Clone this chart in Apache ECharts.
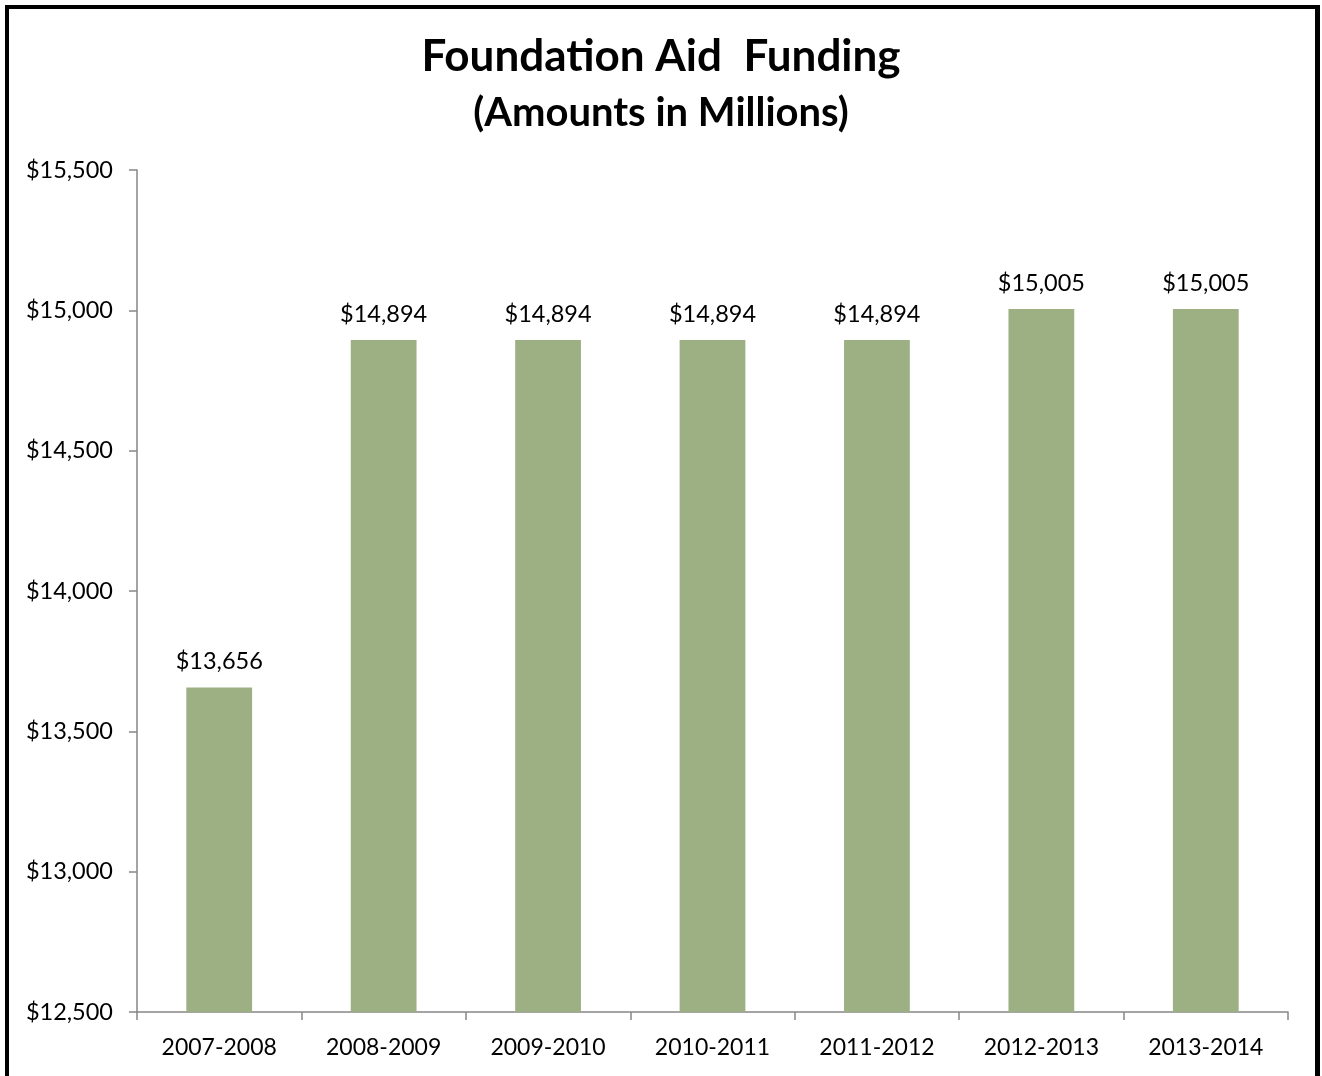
<!DOCTYPE html>
<html>
<head>
<meta charset="utf-8">
<script src="https://cdn.jsdelivr.net/npm/echarts@6/dist/echarts.min.js"></script>
<style>
  html, body { margin: 0; padding: 0; background: #fff; }
  #frame { position: absolute; left: 5px; top: 5px; width: 1306px; height: 1090px; border: 4px solid #000; border-right-width: 5px; box-sizing: content-box; }
  #chart { position: absolute; left: 0; top: 0; width: 1322px; height: 1076px; }
</style>
</head>
<body>
<div id="chart"></div>
<div id="frame"></div>
<script>
const years = ['2007-2008', '2008-2009', '2009-2010', '2010-2011', '2011-2012', '2012-2013', '2013-2014'];
const funding = [13656, 14894, 14894, 14894, 14894, 15005, 15005];
const yMin = 12500, yMax = 15500, yStep = 500;

const FONT = 'Lato, "Noto Sans", sans-serif';
const money = v => '$' + Math.round(v).toLocaleString('en-US');

const chart = echarts.init(document.getElementById('chart'), null, { renderer: 'canvas' });
chart.setOption({
  animation: false,
  backgroundColor: '#ffffff',
  title: [
    { text: 'Foundation Aid  Funding', left: 'center', top: 30,
      textStyle: { fontFamily: FONT, fontWeight: 'bold', fontSize: 44, color: '#000' } },
    { text: '(Amounts in Millions)', left: 'center', top: 88,
      textStyle: { fontFamily: FONT, fontWeight: 'bold', fontSize: 40, color: '#000' } }
  ],
  grid: { left: 137, right: 34, top: 170, bottom: 64, containLabel: false },
  xAxis: {
    type: 'category',
    data: years,
    boundaryGap: true,
    axisLine: { lineStyle: { color: '#868686', width: 1.5 } },
    axisTick: { show: true, length: 8, lineStyle: { color: '#868686', width: 1.5 } },
    axisLabel: { margin: 24, fontFamily: FONT, fontSize: 23, color: '#000' }
  },
  yAxis: {
    type: 'value',
    min: yMin, max: yMax, interval: yStep,
    axisLine: { show: true, lineStyle: { color: '#868686', width: 1.5 } },
    axisTick: { show: true, length: 8, lineStyle: { color: '#868686', width: 1.5 } },
    splitLine: { show: false },
    axisLabel: { margin: 24, fontFamily: FONT, fontSize: 23.5, color: '#000', formatter: money }
  },
  series: [{
    type: 'bar',
    data: funding,
    barWidth: '40%',
    itemStyle: { color: '#9CB084' },
    label: { show: true, position: 'top', distance: 14, fontFamily: FONT, fontSize: 23.5, color: '#000', formatter: p => money(p.value) }
  }]
});
</script>
</body>
</html>
